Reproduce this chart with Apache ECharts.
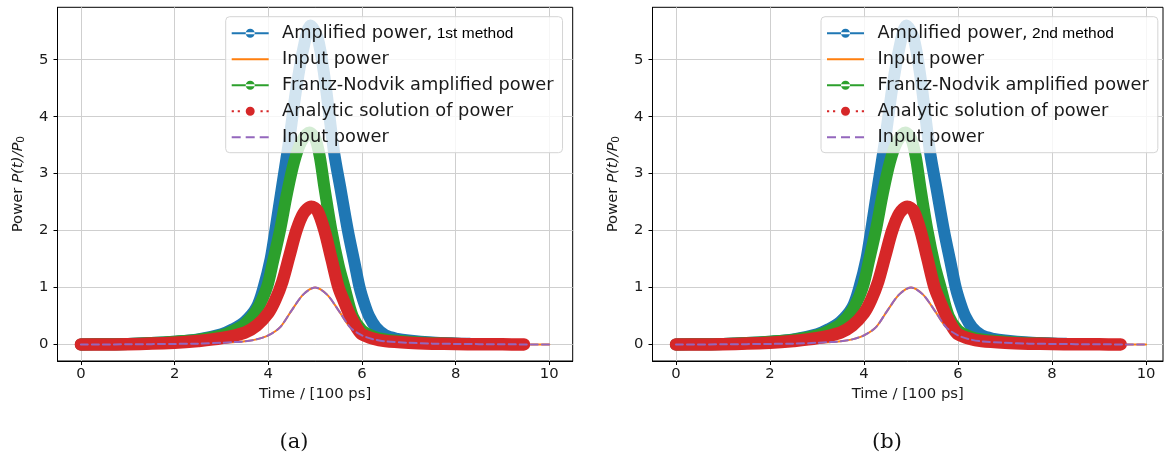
<!DOCTYPE html>
<html><head><meta charset="utf-8">
<script src="https://cdn.jsdelivr.net/npm/echarts@6/dist/echarts.min.js"></script>
<style>html,body{margin:0;padding:0;background:#fff}#c{width:1164px;height:462px}</style>
</head><body><div id="c"></div>
<script>
// ---- tick labels ----
const xTicks = [0, 2, 4, 6, 8, 10];
const yTicks = [0, 1, 2, 3, 4, 5];

// ---- data (time in 100 ps, power P/P0) ----
const inputT = [0, 1, 2, 2.5, 3, 3.25, 3.5, 3.75, 4, 4.25, 4.5, 4.75, 5, 5.25, 5.5, 5.75, 6, 6.25, 6.5, 7, 7.5, 8, 9, 10];
const inputP = [0, 0.003, 0.01, 0.015, 0.03, 0.04, 0.055, 0.09, 0.16, 0.3, 0.6, 0.88, 1.0, 0.88, 0.6, 0.3, 0.16, 0.09, 0.055, 0.03, 0.015, 0.01, 0.003, 0];

const ampT = [0, 0.5, 1, 1.5, 2, 2.5, 3, 3.25, 3.5, 3.75, 3.9, 4.05, 4.15, 4.3, 4.45, 4.6, 4.75, 4.9, 5.05, 5.2, 5.4, 5.55, 5.7, 5.85, 5.95, 6.05, 6.15, 6.3, 6.5, 6.75, 7, 7.5, 8, 8.3];
const ampP = [0, 0.005, 0.01, 0.025, 0.05, 0.09, 0.18, 0.27, 0.4, 0.65, 1.0, 1.5, 2.0, 2.8, 3.6, 4.5, 5.2, 5.6, 5.4, 4.7, 3.4, 2.7, 2.0, 1.4, 1.0, 0.72, 0.5, 0.3, 0.16, 0.1, 0.07, 0.035, 0.018, 0.012];

const fnT = [0, 0.5, 1, 1.5, 2, 2.5, 3, 3.25, 3.5, 3.75, 3.97, 4.1, 4.25, 4.4, 4.55, 4.7, 4.88, 5.0, 5.1, 5.2, 5.35, 5.5, 5.63, 5.8, 6.0, 6.25, 6.5, 7, 7.5, 8, 8.3];
const fnP = [0, 0.005, 0.01, 0.025, 0.05, 0.085, 0.16, 0.24, 0.36, 0.6, 1.0, 1.45, 2.0, 2.65, 3.2, 3.55, 3.72, 3.62, 3.3, 2.75, 2.0, 1.4, 1.0, 0.5, 0.25, 0.14, 0.09, 0.05, 0.025, 0.012, 0.008];

const anT = [0, 1, 2, 2.5, 3, 3.5, 3.75, 4, 4.15, 4.3, 4.45, 4.6, 4.75, 4.92, 5.05, 5.2, 5.35, 5.5, 5.62, 5.75, 5.9, 6, 6.25, 6.5, 7, 7.5, 8, 8.5, 9, 9.46];
const anP = [0, 0.005, 0.03, 0.06, 0.11, 0.21, 0.33, 0.55, 0.78, 1.1, 1.55, 2.0, 2.3, 2.42, 2.35, 2.0, 1.5, 1.0, 0.75, 0.5, 0.28, 0.18, 0.1, 0.06, 0.03, 0.015, 0.008, 0.004, 0.002, 0.001];

const methods = ['1st method', '2nd method'];
const captions = ['(a)', '(b)'];
const legendNames = ['Amplified power,', 'Input power', 'Frantz-Nodvik amplified power', 'Analytic solution of power', 'Input power'];
const colors = ['#1f77b4', '#ff7f0e', '#2ca02c', '#d62728', '#9467bd'];

// ---- helpers ----
const zip = (a, b) => a.map((v, i) => [v, b[i]]);
const FONT = 'DejaVu Sans';
const PAD = 'M45.3,5.95h0.1v0.1h-0.1z';
const ICON_LM = 'path://M0,5h37v2H0z M14,6a4.5,4.5 0 1,0 9,0a4.5,4.5 0 1,0 -9,0z ' + PAD;
const ICON_SOLID = 'path://M0,1.5h0.01v0.01h-0.01z M0,5h37v2H0z M0,10.5h0.01v0.01h-0.01z ' + PAD;
const ICON_DOT = 'path://M0,5h2.2v2H0z M6,5h2.2v2H6z M28.8,5h2.2v2h-2.2z M34.8,5h2.2v2h-2.2z M14,6a4.5,4.5 0 1,0 9,0a4.5,4.5 0 1,0 -9,0z ' + PAD;
const ICON_DASH = 'path://M0,1.5h0.01v0.01h-0.01z M0,5h9v2H0z M14,5h9v2h-9z M28,5h9v2h-9z M0,10.5h0.01v0.01h-0.01z ' + PAD;
const icons = [ICON_LM, ICON_SOLID, ICON_LM, ICON_DOT, ICON_DASH];

const layout = [
  { left: 57.5, width: 515.2, xmax: 10.5, legendLeft: 225.7, capX: 294 },
  { left: 652.5, width: 510.5, xmax: 10.36, legendLeft: 821, capX: 887 }
];

const grids = [], xAxes = [], yAxes = [], series = [], legends = [], graphics = [];
layout.forEach((L, p) => {
  grids.push({ left: L.left, top: 7.3, width: L.width, height: 353.7, show: true, borderColor: '#000', borderWidth: 1, backgroundColor: 'transparent' });
  xAxes.push({
    type: 'value', gridIndex: p, min: -0.5, max: L.xmax,
    axisLine: { onZero: false, lineStyle: { color: '#000', width: 1 } },
    axisTick: { customValues: xTicks, length: 4, lineStyle: { color: '#000' } },
    axisLabel: { customValues: xTicks, margin: 6, fontSize: 14.8, color: '#1a1a1a', fontFamily: FONT },
    splitLine: { show: true, lineStyle: { color: '#cfcfcf', width: 1 } },
    name: 'Time / [100 ps]', nameLocation: 'middle', nameGap: 24,
    nameTextStyle: { fontSize: 14.8, color: '#1a1a1a', fontFamily: FONT }
  });
  yAxes.push({
    type: 'value', gridIndex: p, min: -0.29, max: 5.92,
    axisLine: { onZero: false, lineStyle: { color: '#000', width: 1 } },
    axisTick: { customValues: yTicks, length: 4, lineStyle: { color: '#000' } },
    axisLabel: { customValues: yTicks, margin: 9, fontSize: 14.8, color: '#1a1a1a', fontFamily: FONT },
    splitLine: { show: true, lineStyle: { color: '#cfcfcf', width: 1 } },
    name: 'Power {i|P(t)/P}{s|0}', nameLocation: 'middle', nameRotate: 90, nameGap: 31,
    nameTextStyle: {
      fontSize: 14.8, color: '#1a1a1a', fontFamily: FONT,
      rich: {
        i: { fontSize: 14.8, fontStyle: 'italic', fontFamily: FONT, color: '#1a1a1a' },
        s: { fontSize: 10.5, fontFamily: FONT, color: '#1a1a1a', verticalAlign: 'bottom', padding: [6, 0, 0, 0] }
      }
    }
  });
  const names = legendNames.map((n, k) => 'p' + p + 's' + k);
  const dataSets = [zip(ampT, ampP), zip(inputT, inputP), zip(fnT, fnP), zip(anT, anP), zip(inputT, inputP)];
  const widths = [12, 2, 12, 12.5, 2];
  dataSets.forEach((d, k) => {
    series.push({
      type: 'line', name: names[k], xAxisIndex: p, yAxisIndex: p, data: d,
      symbol: 'none', smooth: 0.3, silent: true, animation: false,
      itemStyle: { color: colors[k] },
      lineStyle: { color: colors[k], width: widths[k], cap: 'round', join: 'round', type: k === 4 ? [7, 4] : 'solid' }
    });
  });
  const labelMap = {};
  names.forEach((n, k) => { labelMap[n] = k === 0 ? legendNames[0] + '{m| ' + methods[p] + '}' : legendNames[k]; });
  legends.push({
    orient: 'vertical', left: L.legendLeft, top: 16.7, padding: [5.5, 9, 6.5, 6],
    itemWidth: 45.4, itemHeight: 12, itemGap: 8, selectedMode: false,
    backgroundColor: 'rgba(255,255,255,0.8)', borderColor: '#d4d4d4', borderWidth: 1, borderRadius: 4,
    itemStyle: { borderWidth: 0 },
    textStyle: { fontFamily: FONT, fontSize: 17.8, color: '#1a1a1a', lineHeight: 18,
      rich: { m: { fontFamily: 'Liberation Sans', fontSize: 15.5, color: '#000', lineHeight: 18, verticalAlign: 'bottom', padding: [4, 0, 0, 0] } } },
    formatter: n => labelMap[n],
    data: names.map((n, k) => ({ name: n, icon: icons[k] }))
  });
  graphics.push({ type: 'text', x: L.capX, y: 443, style: { text: captions[p], font: '21px "DejaVu Serif"', fill: '#111', textAlign: 'center', textVerticalAlign: 'middle' } });
});

const chart = echarts.init(document.getElementById('c'), null, { renderer: 'canvas' });
chart.setOption({
  animation: false,
  grid: grids, xAxis: xAxes, yAxis: yAxes, series: series, legend: legends, graphic: graphics
});
</script></body></html>
